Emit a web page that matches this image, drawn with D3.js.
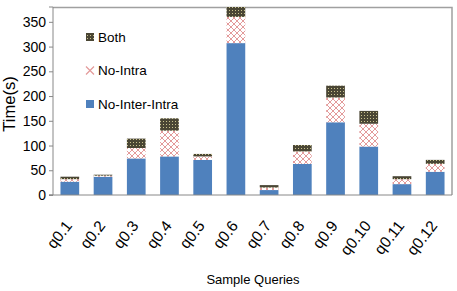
<!DOCTYPE html>
<html>
<head>
<meta charset="utf-8">
<script src="https://cdn.jsdelivr.net/npm/d3@7"></script>
<style>
  body { margin: 0; background: #fff; }
  svg { display: block; font-family: "Liberation Sans", Arial, sans-serif; }
</style>
</head>
<body>
<div id="chart"></div>
<script>
const queries = ['q0.1', 'q0.2', 'q0.3', 'q0.4', 'q0.5', 'q0.6', 'q0.7', 'q0.8', 'q0.9', 'q0.10', 'q0.11', 'q0.12'];
const seriesNames = ['No-Inter-Intra', 'No-Intra', 'Both'];
const noInterIntra = [27, 37, 74, 78, 71, 307, 10, 63, 147, 98, 22, 47];
const noIntra = [5, 2, 21, 52, 7, 53, 5, 25, 50, 46, 10, 16];
const both = [5, 2, 19, 25, 5, 20, 5, 13, 24, 26, 6, 8];
const yTicks = [0, 50, 100, 150, 200, 250, 300, 350];
const legendItems = ['Both', 'No-Intra', 'No-Inter-Intra'];

const width = 457, height = 291;
const margin = { top: 7, right: 5, bottom: 96, left: 53 };
const font = '"Liberation Sans", Arial, sans-serif';

const svg = d3.select('#chart').append('svg')
  .attr('width', width)
  .attr('height', height);

const defs = svg.append('defs');

// crosshatch for No-Intra
const hatch = defs.append('pattern')
  .attr('id', 'hatch')
  .attr('patternUnits', 'userSpaceOnUse')
  .attr('width', 6).attr('height', 6);
hatch.append('rect').attr('width', 6).attr('height', 6).attr('fill', '#fff');
hatch.append('path')
  .attr('d', 'M0,0 L6,6 M6,0 L0,6')
  .attr('stroke', '#e39a9a')
  .attr('stroke-width', 1);

// dotted dark fill for Both
const dots = defs.append('pattern')
  .attr('id', 'dots')
  .attr('patternUnits', 'userSpaceOnUse')
  .attr('width', 3).attr('height', 3);
dots.append('rect').attr('width', 3).attr('height', 3).attr('fill', '#4a4634');
dots.append('rect').attr('x', 1).attr('y', 1).attr('width', 1).attr('height', 1).attr('fill', '#c9c28e');

const fills = {
  'No-Inter-Intra': '#4f81bd',
  'No-Intra': 'url(#hatch)',
  'Both': 'url(#dots)'
};

const rows = queries.map((q, i) => ({
  q,
  'No-Inter-Intra': noInterIntra[i],
  'No-Intra': noIntra[i],
  'Both': both[i]
}));

const stacked = d3.stack().keys(seriesNames)(rows);

const x = d3.scaleBand()
  .domain(queries)
  .range([margin.left, width - margin.right])
  .paddingInner(0.437)
  .paddingOuter(0.225);

const y = d3.scaleLinear()
  .domain([0, 380])
  .range([height - margin.bottom, margin.top]);

// plot frame (top and right)
svg.append('path')
  .attr('d', `M${margin.left},${margin.top + 0.5} H${width - margin.right} V${height - margin.bottom}`)
  .attr('fill', 'none')
  .attr('stroke', '#a0a0a0')
  .attr('stroke-width', 1.5);

svg.append('g')
  .selectAll('g')
  .data(stacked)
  .join('g')
  .attr('fill', d => fills[d.key])
  .selectAll('rect')
  .data(d => d)
  .join('rect')
  .attr('x', d => x(d.data.q))
  .attr('y', d => y(d[1]))
  .attr('width', x.bandwidth())
  .attr('height', d => y(d[0]) - y(d[1]));

// y axis
const yAxis = svg.append('g')
  .attr('transform', `translate(${margin.left},0)`)
  .call(d3.axisLeft(y).tickValues(yTicks).tickSize(4).tickPadding(3));
yAxis.select('.domain').attr('stroke', '#888').attr('d', `M-4,${margin.top}H0V${height - margin.bottom}H-4`);
yAxis.selectAll('.tick line').attr('stroke', '#888');
yAxis.selectAll('text').attr('font-size', 14).attr('fill', '#000').attr('font-family', font);

// x axis
const xAxis = svg.append('g')
  .attr('transform', `translate(0,${height - margin.bottom})`)
  .call(d3.axisBottom(x).tickSize(0).tickPadding(0));
xAxis.select('.domain').attr('stroke', '#888').attr('d', `M${margin.left - 4},0H${width - margin.right}`);
xAxis.selectAll('text')
  .attr('font-size', 15.5)
  .attr('fill', '#000')
  .attr('font-family', font)
  .attr('text-anchor', 'end')
  .attr('y', 0)
  .attr('dy', 0)
  .attr('transform', 'translate(3,31) rotate(-52)');

// axis titles
svg.append('text')
  .attr('x', 253)
  .attr('y', 284)
  .attr('text-anchor', 'middle')
  .attr('font-size', 13)
  .text('Sample Queries');

svg.append('text')
  .attr('transform', `translate(15,104) rotate(-90)`)
  .attr('text-anchor', 'middle')
  .attr('font-size', 16.5)
  .text('Time(s)');

// legend
const legend = svg.append('g')
  .selectAll('g')
  .data(legendItems)
  .join('g')
  .attr('transform', (d, i) => `translate(86,${37 + i * 33.5})`);

legend.each(function (d) {
  const g = d3.select(this);
  if (d === 'No-Intra') {
    g.append('path')
      .attr('d', 'M0,-4 L8,4 M8,-4 L0,4')
      .attr('stroke', '#e39a9a')
      .attr('stroke-width', 1.2);
  } else {
    g.append('rect')
      .attr('x', 0).attr('y', -4)
      .attr('width', 8).attr('height', 8)
      .attr('fill', fills[d]);
  }
});

legend.append('text')
  .attr('x', 12)
  .attr('dy', '0.35em')
  .attr('font-size', 13.5)
  .text(d => d);
</script>
</body>
</html>
